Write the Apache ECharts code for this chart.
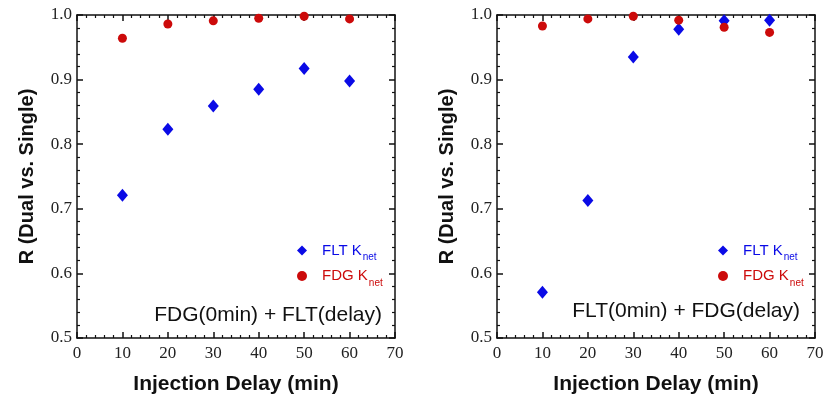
<!DOCTYPE html>
<html>
<head>
<meta charset="utf-8">
<script src="https://cdn.jsdelivr.net/npm/echarts@6/dist/echarts.min.js"></script>
<style>
  html, body { margin: 0; padding: 0; background: #fff; }
  #chart { width: 832px; height: 401px; }
</style>
</head>
<body>
<div id="chart"></div>
<script>
// injection delay (min)
const delays = [10, 20, 30, 40, 50, 60]
// FDG(0min) + FLT(delay)
const fltLeft = [0.721, 0.823, 0.859, 0.885, 0.917, 0.898]
const fdgLeft = [0.964, 0.986, 0.991, 0.995, 0.998, 0.994]
// FLT(0min) + FDG(delay)
const fltRight = [0.571, 0.713, 0.935, 0.978, 0.991, 0.992]
const fdgRight = [0.983, 0.994, 0.998, 0.992, 0.981, 0.973]
const panelNotes = ['FDG(0min) + FLT(delay)', 'FLT(0min) + FDG(delay)']

const BLUE = '#0a0ae6'
const RED = '#cc0a0a'
const serif = '"Liberation Serif", "DejaVu Serif", serif'
const sans = '"Liberation Sans", Arial, sans-serif'

const chart = echarts.init(document.getElementById('chart'))

const grids = [
  { left: 77, top: 15, width: 318, height: 323 },
  { left: 497, top: 15, width: 318, height: 323 }
]

const tickStyle = {
  axisLine: { show: true, onZero: false, lineStyle: { color: '#111', width: 1.5 } },
  axisTick: { show: true, inside: true, length: 6, lineStyle: { color: '#111', width: 1.5 } },
  minorTick: { show: true, splitNumber: 5, length: 3, lineStyle: { color: '#111', width: 1.2 } },
  splitLine: { show: false }
}

const xAxes = []
const yAxes = []
grids.forEach((g, i) => {
  xAxes.push({
    type: 'value', gridIndex: i, position: 'bottom', min: 0, max: 70, interval: 10,
    name: 'Injection Delay (min)', nameLocation: 'middle', nameGap: 36,
    nameTextStyle: { fontFamily: sans, fontWeight: 'bold', fontSize: 21, color: '#111' },
    axisLabel: { fontFamily: serif, fontSize: 17, color: '#222', margin: 7 },
    ...tickStyle
  })
  xAxes.push({
    type: 'value', gridIndex: i, position: 'top', min: 0, max: 70, interval: 10,
    axisLabel: { show: false }, ...tickStyle
  })
  yAxes.push({
    type: 'value', gridIndex: i, position: 'left', min: 0.5, max: 1.0, interval: 0.1,
    name: 'R (Dual vs. Single)', nameLocation: 'middle', nameGap: 40,
    nameTextStyle: { fontFamily: sans, fontWeight: 'bold', fontSize: 20, color: '#111' },
    axisLabel: { fontFamily: serif, fontSize: 17, color: '#222', margin: 5,
      formatter: v => v.toFixed(1) },
    ...tickStyle
  })
  yAxes.push({
    type: 'value', gridIndex: i, position: 'right', min: 0.5, max: 1.0, interval: 0.1,
    axisLabel: { show: false }, ...tickStyle
  })
})

function pts(ys) {
  return delays.map((d, i) => [d, ys[i]])
}

function scatter(name, ys, grid, symbol, size, color) {
  return {
    type: 'scatter', name: name, data: pts(ys),
    xAxisIndex: grid * 2, yAxisIndex: grid * 2,
    symbol: symbol, symbolSize: size,
    itemStyle: { color: color, opacity: 1 }
  }
}

const series = [
  scatter('FLT Knet', fltLeft, 0, 'diamond', [11, 13], BLUE),
  scatter('FDG Knet', fdgLeft, 0, 'circle', 9, RED),
  scatter('FLT Knet', fltRight, 1, 'diamond', [11, 13], BLUE),
  scatter('FDG Knet', fdgRight, 1, 'circle', 9, RED)
]

const legendRich = {
  b: { color: BLUE, fontFamily: sans, fontSize: 15, padding: [0, 0, 0, 10] },
  bs: { color: BLUE, fontFamily: sans, fontSize: 10, padding: [14, 0, 0, 1] },
  r: { color: RED, fontFamily: sans, fontSize: 15, padding: [0, 0, 0, 10] },
  rs: { color: RED, fontFamily: sans, fontSize: 10, padding: [14, 0, 0, 1] }
}

function legend(left) {
  return {
    orient: 'vertical', left: left, top: 238, itemGap: 6,
    itemWidth: 10, itemHeight: 10, selectedMode: false,
    data: [
      { name: 'FLT Knet', icon: 'diamond' },
      { name: 'FDG Knet', icon: 'circle' }
    ],
    formatter: name => name.startsWith('FLT') ? '{b|FLT K}{bs|net}' : '{r|FDG K}{rs|net}',
    textStyle: { rich: legendRich }
  }
}

const noteStyle = { fontFamily: sans, fontWeight: 'normal', fontSize: 21, color: '#111' }

const option = {
  animation: false,
  backgroundColor: '#fff',
  grid: grids,
  xAxis: xAxes,
  yAxis: yAxes,
  legend: [legend(292), legend(713)],
  title: [
    { text: panelNotes[0], right: 832 - 387, top: 300, textStyle: noteStyle },
    { text: panelNotes[1], right: 832 - 805, top: 296, textStyle: noteStyle }
  ],
  series: series
}

chart.setOption(option)
</script>
</body>
</html>
